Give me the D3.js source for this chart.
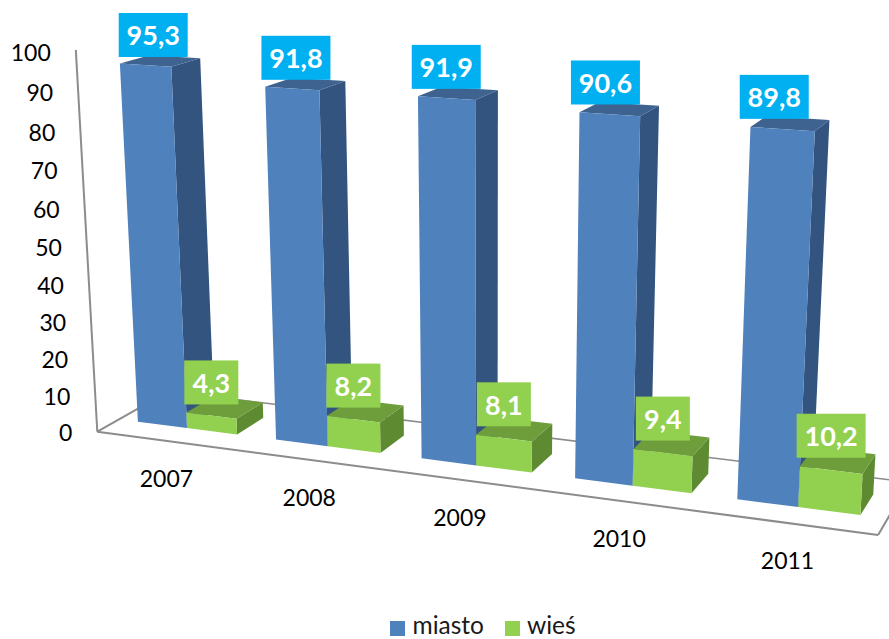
<!DOCTYPE html>
<html><head><meta charset="utf-8">
<script src="https://cdn.jsdelivr.net/npm/d3@7/dist/d3.min.js"></script>
<style>html,body{margin:0;padding:0;background:#fff}svg{display:block}text{font-family:Lato,"Open Sans",sans-serif}</style>
</head><body><svg id="c" width="889" height="639"></svg>
<script>
const years = ["2007","2008","2009","2010","2011"];
const seriesNames = ["miasto","wieś"];
const miasto = [95.3,91.8,91.9,90.6,89.8];
const wies = [4.3,8.2,8.1,9.4,10.2];
const valueTicks = [0,10,20,30,40,50,60,70,80,90,100];
const labelsMiasto = ["95,3","91,8","91,9","90,6","89,8"];
const labelsWies = ["4,3","8,2","8,1","9,4","10,2"];

const colors = {
  miasto:{front:"#4F81BD",side:"#32547E",top:"#3F6390",label:"#00B0F0"},
  "wieś":{front:"#92D050",side:"#5E8B31",top:"#6E9E3C",label:"#92D050"}
};
const W=889,H=639;
const svg=d3.select("#c");

// Scales into unit chart space
const U=d3.scaleBand().domain(years).range([0,0.9965]).paddingInner(0.277).paddingOuter(0.1385);
const S=d3.scaleBand().domain(seriesNames).range([0,U.bandwidth()]);
const V=d3.scaleLinear().domain([0,100]).range([0,1]);
const Z=d3.scaleLinear().domain([0,1]).range([0.295,0.69]);

// Perspective projection built from the vanishing points of the picture
const origin=[97.3,431.7], vpX=[-5170,-265], vpY=[492,7450], vpZ=[1352,-277];
const sU=-0.1291, sV=-0.0516, sW=0.0606;
function proj(u,v,w){
  const d=1+sU*u+sV*v+sW*w;
  return [(origin[0]+sU*vpX[0]*u+sV*vpY[0]*v+sW*vpZ[0]*w)/d,
          (origin[1]+sU*vpX[1]*u+sV*vpY[1]*v+sW*vpZ[1]*w)/d];
}
const poly=d3.line();
const closed=p=>poly(p)+"Z";

const clip=svg.append("defs").append("clipPath").attr("id","page");
clip.append("rect").attr("width",W).attr("height",H);
const root=svg.append("g").attr("clip-path","url(#page)");

// Floor and value axis
const grid=root.append("g").attr("fill","none").attr("stroke","#8C8C8C").attr("stroke-width",2);
[[[0,0,1],[0,0,0]],[[0,0,0],[1,0,0]],[[1,0,0],[1,0,1]]].forEach(s=>{
  grid.append("path").attr("d",poly(s.map(p=>proj(...p))));
});
grid.append("path").attr("stroke-width",1.5).attr("d",poly([proj(0,0,1),proj(1,0,1)]));
grid.append("path").attr("d",poly([proj(0,0,0),proj(0,1,0)]));

// Bars
function bar(g,cat,name,val){
  const u0=U(cat)+S(name), u1=u0+S.bandwidth(), w0=Z(0), w1=Z(1), v0=V(0), v1=V(val), c=colors[name];
  g.append("path").attr("fill",c.side).attr("d",closed([proj(u1,v0,w0),proj(u1,v0,w1),proj(u1,v1,w1),proj(u1,v1,w0)]));
  g.append("path").attr("fill",c.top).attr("d",closed([proj(u0,v1,w0),proj(u1,v1,w0),proj(u1,v1,w1),proj(u0,v1,w1)]));
  g.append("path").attr("fill",c.front).attr("d",closed([proj(u0,v0,w0),proj(u1,v0,w0),proj(u1,v1,w0),proj(u0,v1,w0)]));
}
const bars=root.append("g");
years.forEach((y,i)=>{
  const g=bars.append("g");
  bar(g,y,"miasto",miasto[i]);
  bar(g,y,"wieś",wies[i]);
});

// Value tick labels
const tickShift=d3.scaleLinear().domain([0,100]).range([0,2.5]);
const tickG=root.append("g").attr("font-size",23).attr("fill","#000").attr("text-anchor","end");
valueTicks.forEach(t=>{
  const p=proj(0,V(t),0);
  tickG.append("text").attr("x",p[0]-25).attr("y",p[1]+tickShift(t)).attr("dominant-baseline","central").text(t);
});

// Category labels
const catG=root.append("g").attr("font-size",23).attr("fill","#000").attr("text-anchor","middle");
years.forEach(y=>{
  const p=proj(U(y)+U.bandwidth()/2,0,0);
  catG.append("text").attr("x",p[0]+0.5).attr("y",p[1]+37).attr("dominant-baseline","central").text(y);
});

// Data labels
const labelNudgeX=d3.scaleLinear().domain([0,1]).range([9,-11]);
const labelLiftY=d3.scaleLinear().domain([0,1]).range([-30,-32.5]);
const greenLiftY=d3.scaleLinear().domain([0,1]).range([-33,-34.5]);
function dataLabel(cat,name,val,txt){
  const u=U(cat)+S(name)+S.bandwidth()/2, p=proj(u,V(val),Z(0));
  const isM=name==="miasto";
  const w=txt.length>3?69:54, h=44;
  const cx=p[0]+(isM?labelNudgeX(u):0), cy=p[1]+(isM?labelLiftY(u):greenLiftY(u));
  const g=root.append("g");
  g.append("rect").attr("x",cx-w/2).attr("y",cy-h/2).attr("width",w).attr("height",h).attr("fill",colors[name].label);
  g.append("text").attr("x",cx).attr("y",cy).attr("text-anchor","middle").attr("dominant-baseline","central")
    .attr("fill","#fff").attr("font-weight",700).attr("font-size",27).text(txt);
}
years.forEach((y,i)=>{
  dataLabel(y,"miasto",miasto[i],labelsMiasto[i]);
  dataLabel(y,"wieś",wies[i],labelsWies[i]);
});

// Legend
const leg=root.append("g").attr("font-size",24.5).attr("fill","#1a1a1a");
[["miasto",390,412.5],["wieś",505,527]].forEach(([n,sx,tx])=>{
  leg.append("rect").attr("x",sx).attr("y",621).attr("width",15).attr("height",15).attr("fill",colors[n].front);
  leg.append("text").attr("x",tx).attr("y",633.5).text(n);
});
</script></body></html>
